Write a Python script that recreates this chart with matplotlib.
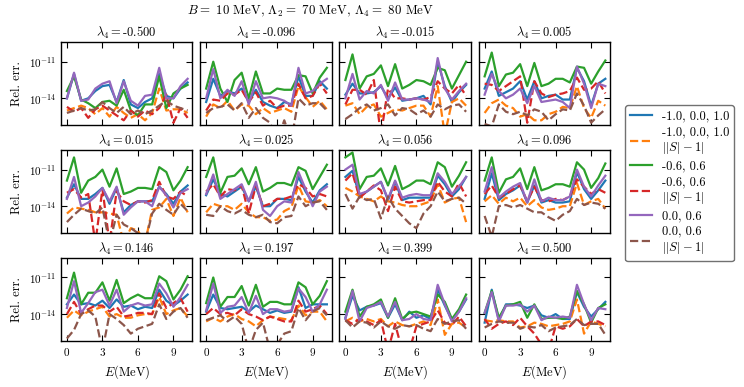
import matplotlib
matplotlib.use("Agg")
import matplotlib.pyplot as plt
import numpy as np

plt.rcParams["font.family"] = "serif"
plt.rcParams["font.serif"] = ["cmr10", "DejaVu Serif"]
plt.rcParams["mathtext.fontset"] = "cm"
plt.rcParams["axes.unicode_minus"] = False
plt.rcParams["axes.formatter.use_mathtext"] = True

E = [0.0, 0.6, 1.2, 1.8, 2.4, 3.0, 3.6, 4.2, 4.8, 5.4, 6.0, 6.6, 7.2, 7.8, 8.4, 9.0, 9.6, 10.2]
lam4 = ["-0.500", "-0.096", "-0.015", "0.005", "0.015", "0.025",
        "0.056", "0.096", "0.146", "0.197", "0.399", "0.500"]

labels = ["-1.0, 0.0, 1.0", "-1.0, 0.0, 1.0\n$||S|-1|$", "-0.6, 0.6",
          "-0.6, 0.6\n$||S|-1|$", "0.0, 0.6", "0.0, 0.6\n$||S|-1|$"]

# log10 of relative error, per panel: blue, orange, green, red, purple, brown
blue = [
    [-14.0, -12.0, -14.2, -14.0, -13.4, -13.0, -12.9, -14.3, -12.5, -14.5, -14.8, -14.3, -14.0, -12.0, -13.8, -14.0, -13.2, -12.7],
    [-14.3, -12.4, -13.8, -13.4, -13.6, -13.2, -14.3, -13.3, -14.3, -14.6, -14.8, -14.3, -14.5, -12.2, -13.8, -13.8, -12.6, -13.2],
    [-13.7, -12.8, -13.6, -13.6, -13.5, -13.0, -14.0, -13.1, -14.2, -14.1, -14.0, -13.8, -14.5, -11.0, -13.0, -14.3, -13.5, -12.9],
    [-13.2, -11.8, -13.8, -13.5, -13.2, -12.6, -14.1, -12.6, -14.0, -13.8, -13.7, -14.1, -14.1, -11.5, -12.6, -14.6, -12.8, -12.4],
    [-13.3, -12.2, -13.4, -13.4, -13.0, -12.5, -13.8, -12.5, -14.5, -13.9, -13.6, -13.6, -13.6, -12.4, -13.0, -13.8, -12.8, -12.3],
    [-13.1, -11.8, -13.0, -13.2, -12.8, -12.4, -13.6, -12.4, -14.0, -14.0, -13.4, -13.4, -13.5, -11.6, -12.8, -13.7, -12.7, -12.2],
    [-11.6, -11.1, -13.2, -12.8, -12.4, -12.0, -13.5, -12.0, -13.5, -13.3, -13.3, -13.3, -13.3, -11.5, -12.2, -13.2, -12.6, -11.6],
    [-13.4, -11.3, -13.5, -13.0, -12.7, -12.3, -13.7, -12.3, -13.7, -13.5, -13.7, -13.7, -13.6, -11.2, -12.6, -13.4, -12.7, -11.9],
    [-13.2, -12.4, -13.2, -13.1, -13.3, -12.9, -13.5, -12.8, -13.4, -13.3, -13.6, -13.4, -13.5, -12.0, -12.9, -13.3, -12.9, -12.4],
    [-13.8, -12.4, -13.5, -13.6, -13.5, -13.4, -13.8, -13.3, -13.6, -13.9, -13.7, -13.9, -13.8, -11.8, -13.5, -13.2, -13.2, -13.2],
    [-14.3, -12.5, -13.7, -13.4, -13.3, -13.1, -14.3, -13.2, -14.5, -13.8, -14.3, -14.1, -14.4, -12.0, -13.3, -14.5, -13.8, -12.8],
    [-14.7, -12.0, -14.5, -13.2, -13.2, -13.3, -13.5, -13.3, -14.1, -14.3, -14.0, -14.4, -14.4, -12.2, -13.4, -14.2, -13.6, -13.0],
]
orange = [
    [-15.0, -14.8, -14.6, -14.8, -15.3, -14.8, -15.5, -14.7, -15.2, -15.6, -15.3, -15.8, -15.2, -13.2, -15.0, -14.9, -14.9, -15.2],
    [-15.5, -14.5, -14.8, -14.2, -15.0, -14.5, -14.6, -15.3, -14.8, -15.2, -15.0, -14.8, -15.1, -13.0, -13.9, -14.7, -14.2, -14.9],
    [-14.6, -14.4, -15.3, -14.7, -14.5, -15.5, -15.2, -14.9, -15.0, -14.8, -14.6, -14.6, -15.5, -13.0, -17.0, -14.3, -14.0, -14.6],
    [-15.2, -14.4, -14.1, -14.6, -14.8, -15.5, -15.3, -15.8, -15.8, -15.3, -15.1, -14.7, -14.8, -13.0, -14.8, -15.6, -14.2, -14.6],
    [-14.6, -14.1, -14.2, -14.3, -14.5, -14.5, -14.6, -14.7, -17.0, -15.8, -16.0, -17.0, -14.3, -14.1, -13.4, -14.8, -13.3, -14.5],
    [-14.5, -13.8, -14.0, -14.0, -14.3, -13.8, -14.5, -14.9, -14.9, -15.2, -15.1, -14.4, -14.1, -12.3, -13.6, -13.7, -13.5, -14.0],
    [-12.5, -12.8, -13.2, -13.4, -13.6, -13.2, -13.6, -13.7, -13.9, -14.0, -14.0, -13.8, -13.6, -12.2, -13.7, -13.4, -13.3, -15.3],
    [-13.6, -13.1, -13.8, -13.3, -13.6, -13.3, -14.0, -13.5, -14.1, -14.3, -14.2, -14.0, -14.0, -12.1, -13.9, -13.6, -13.4, -14.2],
    [-14.3, -13.7, -14.1, -13.8, -13.6, -13.4, -14.2, -14.0, -14.3, -14.3, -14.1, -14.0, -14.0, -12.6, -14.0, -13.7, -13.5, -14.2],
    [-14.6, -14.3, -14.6, -14.2, -14.0, -14.4, -14.6, -15.0, -14.5, -14.2, -14.3, -14.4, -14.5, -13.3, -14.1, -13.8, -13.8, -14.6],
    [-14.6, -14.3, -14.6, -14.4, -14.6, -14.4, -15.0, -14.6, -14.9, -15.0, -14.8, -14.6, -14.9, -12.8, -15.7, -14.8, -14.7, -15.1],
    [-14.5, -14.6, -14.5, -14.6, -14.6, -15.1, -15.0, -14.7, -14.8, -15.0, -14.9, -14.8, -14.6, -12.8, -15.6, -14.6, -14.8, -15.0],
]
green = [
    [-13.4, -12.2, -14.1, -14.4, -14.8, -14.3, -14.2, -14.6, -13.3, -15.0, -15.4, -14.5, -14.5, -12.2, -14.8, -13.6, -13.2, -12.9],
    [-13.2, -11.0, -13.2, -14.3, -12.5, -11.9, -14.0, -11.8, -13.6, -13.6, -13.2, -13.3, -13.3, -12.1, -12.2, -13.6, -12.3, -11.5],
    [-12.5, -10.4, -13.2, -12.2, -12.0, -11.3, -13.0, -11.2, -13.2, -12.9, -12.5, -12.6, -12.9, -11.5, -11.7, -13.2, -12.1, -11.0],
    [-12.2, -10.25, -13.0, -12.05, -11.9, -11.2, -13.0, -11.1, -13.0, -12.8, -12.4, -12.4, -12.7, -11.4, -11.5, -12.8, -11.8, -10.9],
    [-11.9, -10.0, -12.9, -11.9, -11.6, -11.0, -12.4, -10.9, -13.0, -12.8, -12.5, -12.5, -12.6, -10.8, -11.2, -12.7, -11.9, -10.8],
    [-11.6, -10.0, -12.9, -11.6, -11.5, -10.9, -12.2, -10.8, -12.8, -12.5, -12.1, -12.1, -12.3, -10.8, -11.1, -12.6, -11.6, -10.6],
    [-10.0, -9.6, -12.6, -11.6, -11.5, -10.9, -12.3, -10.7, -12.6, -12.3, -11.9, -11.9, -12.2, -10.4, -10.8, -12.4, -11.5, -10.4],
    [-11.9, -10.0, -12.9, -11.8, -11.6, -10.9, -12.6, -10.8, -12.7, -12.5, -12.2, -12.2, -12.4, -10.4, -11.0, -12.5, -11.7, -10.5],
    [-12.7, -10.6, -13.2, -12.25, -12.25, -11.4, -12.9, -11.2, -13.1, -12.7, -12.4, -12.7, -12.7, -10.9, -11.3, -12.8, -12.0, -10.9],
    [-13.1, -11.0, -13.4, -12.6, -12.6, -11.7, -13.3, -11.6, -13.4, -13.0, -13.0, -13.2, -13.2, -11.4, -11.8, -13.2, -12.5, -11.3],
    [-13.8, -12.0, -14.2, -13.4, -13.2, -12.8, -14.3, -12.7, -14.4, -13.9, -13.8, -14.0, -14.2, -12.4, -13.0, -14.4, -13.6, -12.4],
    [-13.9, -12.1, -14.3, -13.3, -13.2, -13.0, -14.3, -13.2, -14.4, -14.3, -14.3, -14.4, -14.2, -12.1, -13.2, -14.7, -13.5, -13.2],
]
red = [
    [-14.7, -15.1, -14.8, -15.6, -14.9, -14.6, -15.0, -15.4, -15.8, -15.0, -15.5, -15.0, -15.3, -14.8, -13.7, -16.0, -14.8, -15.6],
    [-15.0, -14.1, -14.2, -13.6, -13.7, -13.3, -14.3, -13.5, -14.6, -14.2, -14.8, -14.6, -14.6, -12.8, -14.0, -13.8, -12.8, -13.6],
    [-14.5, -13.3, -13.3, -13.7, -12.5, -17.0, -13.2, -14.0, -14.0, -14.1, -14.0, -14.1, -13.9, -12.6, -13.2, -13.6, -12.9, -13.8],
    [-12.8, -12.9, -13.4, -13.0, -12.6, -12.2, -16.0, -12.6, -13.6, -13.9, -13.7, -13.6, -13.4, -12.3, -13.3, -13.2, -12.6, -13.6],
    [-12.9, -12.6, -13.3, -13.0, -17.0, -12.6, -17.0, -12.8, -13.6, -13.9, -13.6, -13.7, -13.5, -12.0, -13.2, -13.4, -12.8, -13.2],
    [-12.8, -12.2, -13.2, -12.6, -12.7, -12.3, -14.6, -12.3, -14.0, -13.8, -13.4, -13.4, -13.2, -12.2, -12.5, -13.2, -13.0, -13.2],
    [-11.9, -11.3, -13.3, -12.8, -12.3, -12.7, -14.4, -12.4, -13.6, -13.7, -13.6, -13.5, -13.5, -12.0, -12.8, -13.2, -12.1, -13.2],
    [-13.0, -12.3, -13.3, -13.0, -12.6, -12.3, -13.6, -12.4, -13.5, -13.6, -13.4, -13.5, -13.2, -11.8, -12.4, -13.0, -12.6, -12.9],
    [-14.0, -13.0, -14.0, -13.6, -13.3, -13.3, -13.8, -13.4, -14.2, -14.1, -13.9, -13.9, -14.0, -12.3, -13.5, -13.1, -12.7, -13.8],
    [-14.0, -13.5, -14.0, -13.9, -14.1, -13.6, -14.0, -14.2, -14.5, -14.2, -14.4, -14.6, -14.6, -12.9, -13.8, -13.6, -13.3, -14.0],
    [-14.5, -14.8, -14.4, -14.6, -14.9, -14.5, -17.0, -14.8, -17.0, -17.0, -15.0, -14.8, -14.6, -13.7, -14.7, -14.9, -14.2, -15.0],
    [-14.4, -15.2, -14.8, -14.6, -14.9, -14.3, -15.0, -15.6, -16.5, -17.0, -15.0, -15.2, -15.0, -14.4, -15.0, -14.6, -14.6, -14.9],
]
purple = [
    [-14.0, -11.9, -14.2, -14.1, -13.2, -12.8, -12.6, -14.4, -12.6, -14.2, -14.6, -13.8, -13.7, -11.5, -14.0, -14.0, -13.0, -12.4],
    [-14.0, -11.6, -14.0, -13.3, -13.8, -12.6, -14.5, -12.6, -14.0, -13.9, -14.0, -14.2, -14.6, -11.5, -13.6, -13.4, -12.8, -12.4],
    [-14.0, -12.0, -14.1, -13.4, -13.6, -12.9, -14.2, -12.7, -14.1, -14.1, -14.0, -14.1, -14.3, -10.7, -13.2, -14.1, -13.4, -12.8],
    [-13.7, -12.0, -13.4, -14.0, -13.7, -13.2, -14.4, -13.0, -14.3, -14.2, -14.1, -14.3, -14.8, -11.4, -12.8, -14.8, -12.8, -13.0],
    [-13.4, -11.6, -14.0, -13.7, -13.2, -12.5, -13.6, -12.4, -14.7, -14.1, -13.6, -13.6, -14.0, -12.4, -13.1, -14.1, -12.9, -12.6],
    [-13.0, -11.4, -13.4, -13.0, -12.6, -12.2, -13.6, -12.0, -14.3, -14.8, -14.0, -13.6, -13.7, -11.2, -12.6, -14.0, -12.8, -12.4],
    [-11.0, -10.6, -13.0, -12.8, -12.4, -12.0, -13.4, -11.9, -13.3, -13.1, -13.0, -13.1, -13.1, -11.3, -12.0, -13.0, -12.4, -11.6],
    [-12.8, -10.8, -13.3, -12.8, -12.4, -12.1, -13.7, -11.8, -13.6, -13.3, -13.5, -13.5, -13.2, -11.0, -12.4, -13.2, -12.3, -11.5],
    [-13.5, -11.3, -13.9, -13.1, -12.2, -12.0, -13.3, -12.0, -13.8, -13.3, -13.1, -13.3, -13.2, -11.5, -12.3, -13.4, -12.6, -11.6],
    [-13.7, -11.5, -13.9, -13.4, -13.3, -12.6, -13.9, -12.5, -14.0, -13.6, -13.6, -13.8, -13.7, -11.9, -12.6, -13.8, -13.2, -12.0],
    [-14.4, -12.1, -14.6, -13.5, -13.3, -13.0, -14.2, -13.0, -14.5, -14.4, -14.0, -14.4, -14.5, -11.6, -13.2, -14.6, -13.8, -12.7],
    [-13.9, -12.2, -14.6, -13.3, -13.3, -13.2, -13.8, -13.3, -14.5, -14.2, -14.3, -14.2, -14.3, -11.6, -13.2, -14.5, -13.5, -13.6],
]
brown = [
    [-15.2, -15.0, -14.8, -15.0, -14.9, -14.3, -14.8, -15.2, -14.7, -15.3, -15.0, -15.3, -15.0, -14.6, -14.2, -14.6, -14.8, -15.0],
    [-15.2, -14.8, -14.7, -14.5, -15.0, -14.4, -15.6, -14.8, -15.6, -16.0, -17.5, -15.8, -17.5, -14.0, -14.6, -14.4, -14.4, -15.0],
    [-15.7, -15.3, -14.8, -14.5, -15.0, -14.8, -14.5, -15.4, -14.8, -14.9, -15.3, -15.0, -15.5, -14.5, -14.9, -14.6, -14.5, -15.1],
    [-16.1, -16.3, -14.5, -15.1, -15.3, -15.1, -15.4, -14.9, -15.1, -15.8, -15.3, -14.9, -15.0, -13.6, -14.6, -16.0, -15.4, -14.9],
    [-15.3, -14.7, -14.2, -14.4, -14.6, -14.1, -17.0, -14.7, -15.5, -15.8, -16.2, -17.0, -14.6, -13.8, -14.3, -14.7, -13.8, -14.4],
    [-14.7, -14.8, -14.0, -14.4, -14.6, -14.3, -14.7, -14.9, -14.7, -15.3, -15.4, -14.9, -14.8, -13.2, -14.0, -13.7, -13.6, -14.3],
    [-13.0, -14.2, -13.2, -13.5, -13.4, -15.0, -13.2, -14.2, -14.8, -15.4, -15.8, -14.6, -14.0, -12.8, -13.6, -13.4, -13.3, -13.8],
    [-14.8, -16.5, -14.0, -13.9, -14.1, -13.9, -14.2, -14.5, -14.5, -14.9, -15.2, -14.7, -14.4, -13.4, -13.9, -13.7, -13.8, -14.2],
    [-16.0, -15.3, -14.0, -13.7, -14.2, -17.0, -14.0, -14.4, -14.9, -15.6, -15.2, -15.0, -14.8, -13.2, -14.4, -13.8, -13.5, -14.3],
    [-14.5, -14.3, -14.1, -14.6, -14.2, -14.8, -17.0, -15.3, -14.7, -17.0, -16.5, -15.6, -15.4, -13.5, -14.5, -13.8, -13.5, -14.1],
    [-14.5, -15.1, -14.6, -14.7, -15.1, -14.6, -15.0, -15.2, -14.9, -15.0, -14.9, -15.2, -15.4, -14.4, -14.8, -14.6, -14.5, -15.2],
    [-15.1, -14.8, -14.6, -14.7, -14.7, -15.2, -15.0, -15.1, -14.9, -15.4, -15.1, -15.0, -14.9, -14.4, -14.9, -14.8, -14.8, -15.7],
]

series = [(blue, "C0", "-"), (orange, "C1", "--"), (green, "C2", "-"),
          (red, "C3", "--"), (purple, "C4", "-"), (brown, "C5", "--")]

fig, axs = plt.subplots(3, 4, figsize=(7.44, 3.87), dpi=100, sharex=True, sharey=True)
fig.subplots_adjust(left=0.082, right=0.820, top=0.891, bottom=0.119, wspace=0.06, hspace=0.30)

for k, ax in enumerate(axs.flat):
    for (data, col, ls), lab in zip(series, labels):
        ax.plot(E, 10.0 ** np.array(data[k]), color=col, ls=ls, lw=1.6, label=lab)
    ax.set_yscale("log")
    ax.set_ylim(10 ** -16.2, 10 ** -9.4)
    ax.set_xlim(-0.5, 10.6)
    ax.set_yticks([1e-14, 1e-11])
    ax.minorticks_off()
    ax.set_xticks([0, 3, 6, 9])
    ax.tick_params(direction="in", top=True, right=True, labelsize=8, length=4, width=0.8)
    ax.set_title(r"$\lambda_4=$" + lam4[k], fontsize=9, pad=4)
    for s in ax.spines.values():
        s.set_linewidth(1.0)

for ax in axs[:, 0]:
    ax.set_ylabel("Rel. err.", fontsize=9)
for ax in axs[-1, :]:
    ax.set_xlabel(r"$E$(MeV)", fontsize=9)

fig.suptitle(r"$B=$ 10 MeV, $\Lambda_2=$ 70 MeV, $\Lambda_4=$ 80 MeV", x=0.418, y=0.99, fontsize=9.3)

handles, labs = axs[0, 0].get_legend_handles_labels()
fig.legend(handles, labs, loc="center left", bbox_to_anchor=(0.832, 0.527), fontsize=9,
           handlelength=1.7, labelspacing=0.3, edgecolor="0.3", fancybox=True)

fig.savefig("out.png", dpi=100)
